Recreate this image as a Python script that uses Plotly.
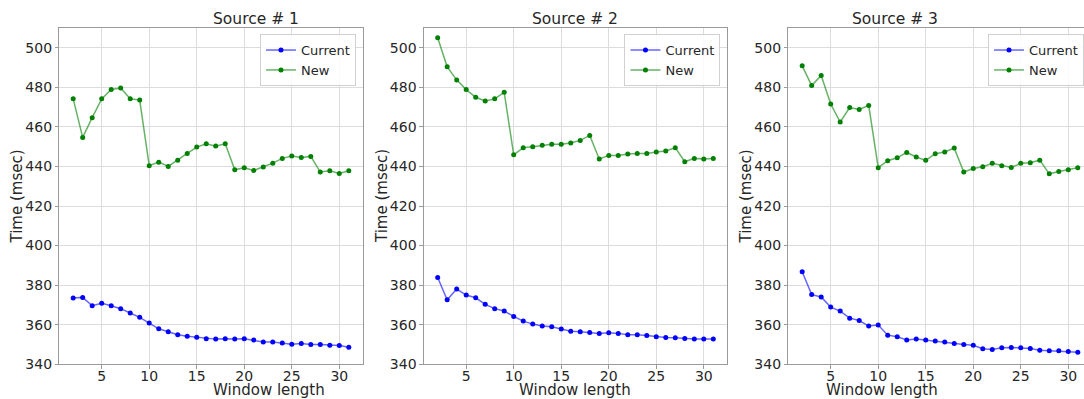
import plotly.graph_objects as go

window_length = list(range(2, 32))

source_titles = ["Source # 1", "Source # 2", "Source # 3"]

current_1 = [373.5, 373.8, 369.6, 370.8, 369.6, 368.1, 365.9, 363.7, 360.8, 357.9,
             356.4, 354.9, 354.2, 353.7, 352.9, 352.7, 352.9, 352.7, 352.9, 352.2,
             351.2, 351.2, 350.7, 350.1, 350.5, 350.0, 350.0, 349.6, 349.5, 348.6]
new_1 = [474.2, 454.7, 464.7, 474.2, 478.9, 479.7, 474.2, 473.6, 440.4, 442.2,
         440.0, 443.1, 446.6, 449.8, 451.5, 450.3, 451.5, 438.3, 439.4, 438.0,
         439.7, 441.7, 444.1, 445.3, 444.6, 445.1, 437.2, 437.8, 436.5, 437.8]

current_2 = [383.9, 372.6, 378.0, 375.0, 373.6, 370.3, 368.1, 366.9, 364.2, 361.8,
             360.3, 359.3, 358.9, 357.8, 356.7, 356.4, 356.1, 355.6, 355.9, 355.6,
             354.9, 354.9, 354.5, 353.9, 353.5, 353.4, 353.0, 352.7, 352.7, 352.7]
new_2 = [505.1, 490.4, 483.8, 478.9, 475.0, 473.1, 474.2, 477.5, 445.9, 449.5,
         450.0, 450.7, 451.2, 451.2, 451.9, 453.2, 455.7, 443.8, 445.6, 445.6,
         446.3, 446.6, 446.6, 447.3, 447.8, 449.5, 442.4, 444.1, 443.8, 444.1]

current_3 = [386.8, 375.2, 374.0, 368.9, 366.9, 363.3, 362.1, 359.3, 359.8, 354.7,
             353.9, 352.3, 352.8, 352.2, 351.8, 351.2, 350.5, 350.0, 349.6, 347.8,
             347.4, 348.3, 348.5, 348.3, 348.0, 347.1, 346.8, 346.8, 346.4, 346.1]
new_3 = [490.9, 480.9, 486.0, 471.6, 462.5, 469.8, 468.8, 470.9, 439.4, 442.9,
         444.4, 447.1, 444.8, 443.1, 446.5, 447.3, 449.3, 437.2, 439.0, 439.9,
         441.6, 440.4, 439.5, 441.6, 441.9, 443.2, 436.3, 437.5, 438.3, 439.4]

x_ticks = [5, 10, 15, 20, 25, 30]
y_ticks = [340, 360, 380, 400, 420, 440, 460, 480, 500]

currents = [current_1, current_2, current_3]
news = [new_1, new_2, new_3]

W = 1084
H_REQ = 399
H = 390          # height at which the page actually lays the figure out
FONT = "DejaVu Sans"
TXT = "#262626"
GRID = "#dcdcdc"
FRAME = "#9a9a9a"

lefts = [59.4, 423.9, 788.4]
px_per_unit = 9.504
x_lo = 0.55
x_hi_full = 32.45
top_px, bot_px = 28.0, 363.3

fig = go.Figure()

for i in range(3):
    left = lefts[i]
    full_right = left + (x_hi_full - x_lo) * px_per_unit
    right = full_right
    x_hi = x_hi_full
    if right > W:
        right = W
        x_hi = x_lo + (right - left) / px_per_unit
    ax = "" if i == 0 else str(i + 1)
    xa = "xaxis" + ax
    ya = "yaxis" + ax
    lg = "legend" if i == 0 else "legend" + str(i + 1)

    fig.add_trace(go.Scatter(
        x=window_length, y=currents[i], name="Current", mode="lines+markers",
        line=dict(color="rgba(0,0,255,0.6)", width=1.5),
        marker=dict(color="#0000ff", size=5),
        xaxis="x" + ax, yaxis="y" + ax, legend=lg))
    fig.add_trace(go.Scatter(
        x=window_length, y=news[i], name="New", mode="lines+markers",
        line=dict(color="rgba(0,128,0,0.6)", width=1.5),
        marker=dict(color="#008000", size=5),
        xaxis="x" + ax, yaxis="y" + ax, legend=lg))

    fig.layout[xa] = dict(
        domain=[left / W, right / W], range=[x_lo, x_hi],
        tickvals=x_ticks, ticks="outside", ticklen=3.5, tickcolor=FRAME,
        ticklabelstandoff=-5,
        showgrid=True, gridcolor=GRID, gridwidth=1, zeroline=False,
        showline=True, linecolor=FRAME, linewidth=1, mirror=True,
        tickfont=dict(family=FONT, size=14, color=TXT),
        anchor="y" + ax)
    fig.layout[ya] = dict(
        domain=[1 - bot_px / H, 1 - top_px / H], range=[340, 510],
        tickvals=y_ticks, ticks="outside", ticklen=3.5, tickcolor=FRAME,
        showgrid=True, gridcolor=GRID, gridwidth=1, zeroline=False,
        showline=True, linecolor=FRAME, linewidth=1, mirror=(i < 2),
        tickfont=dict(family=FONT, size=14, color=TXT),
        anchor="x" + ax)

    legend_right = right - 6.6 if i < 2 else W
    fig.layout[lg] = dict(
        x=legend_right / W, xanchor="right", y=1 - 34.0 / H, yanchor="top",
        bgcolor="rgba(255,255,255,0.85)", bordercolor="#d0d0d0", borderwidth=1,
        font=dict(family=FONT, size=13, color=TXT), itemwidth=30,
        tracegroupgap=0)

    cx = (left + full_right) / 2 / W
    fig.add_annotation(text=source_titles[i], x=cx, xref="paper",
                       y=1 - 18.7 / H, yref="paper", yanchor="middle",
                       showarrow=False,
                       font=dict(family=FONT, size=15.5, color=TXT))
    fig.add_annotation(text="Window length", x=cx, xref="paper",
                       y=1 - 389 / H, yref="paper", yanchor="middle",
                       showarrow=False,
                       font=dict(family=FONT, size=15, color=TXT))
    fig.add_annotation(text="Time (msec)", x=(left - 42) / W, xref="paper",
                       xanchor="center",
                       y=1 - (top_px + bot_px) / 2 / H, yref="paper",
                       yanchor="middle", textangle=-90, showarrow=False,
                       font=dict(family=FONT, size=15, color=TXT))

fig.update_layout(
    width=W, height=H_REQ, margin=dict(l=0, r=0, t=0, b=0),
    paper_bgcolor="white", plot_bgcolor="white", showlegend=True)

fig.write_html("out.html")
